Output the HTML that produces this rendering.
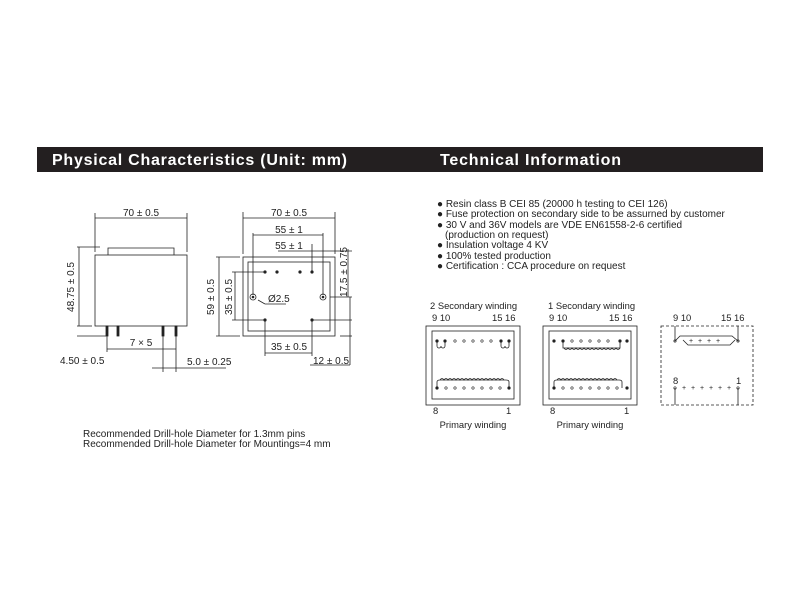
<!DOCTYPE html>
<html><head><meta charset="utf-8"><style>
body{margin:0;background:#fff;width:800px;height:600px;overflow:hidden}
svg{display:block;font-family:"Liberation Sans",sans-serif}
</style></head><body>
<svg width="800" height="600" viewBox="0 0 800 600">
<rect x="37" y="147" width="726" height="25" fill="#231f20"/>
<text x="52" y="165" fill="#fff" font-size="16" font-weight="bold" textLength="295" lengthAdjust="spacing">Physical Characteristics (Unit: mm)</text>
<text x="440" y="165" fill="#fff" font-size="16" font-weight="bold" textLength="181" lengthAdjust="spacing">Technical Information</text>

<g stroke="#222" stroke-width="0.8" fill="none">
<rect x="95" y="255" width="92" height="71"/>
<polyline points="108,255 108,248 174,248 174,255"/>
<rect x="106" y="326" width="2" height="10" fill="#222"/><rect x="117" y="326" width="2" height="10" fill="#222"/>
<rect x="162" y="326" width="2" height="10" fill="#222"/><rect x="175" y="326" width="2" height="10" fill="#222"/>
<line x1="95" y1="213" x2="95" y2="252"/><line x1="187" y1="213" x2="187" y2="252"/>
<line x1="95" y1="218" x2="187" y2="218"/>
<line x1="77" y1="247" x2="100" y2="247"/><line x1="77" y1="326" x2="92" y2="326"/><line x1="77" y1="336" x2="106" y2="336"/>
<line x1="79" y1="247" x2="79" y2="326"/>
<line x1="107" y1="336" x2="107" y2="352"/><line x1="163" y1="336" x2="163" y2="352"/>
<line x1="107" y1="349" x2="176" y2="349"/>
<line x1="163" y1="352" x2="163" y2="372"/><line x1="176" y1="336" x2="176" y2="372"/>
<line x1="152" y1="368" x2="226" y2="368"/>
<rect x="243" y="257" width="92" height="79"/>
<rect x="248" y="262" width="82" height="69"/>
<line x1="243" y1="212" x2="243" y2="254"/><line x1="335" y1="212" x2="335" y2="254"/>
<line x1="243" y1="218" x2="335" y2="218"/>
<line x1="253" y1="233" x2="253" y2="295"/><line x1="323" y1="233" x2="323" y2="295"/>
<line x1="253" y1="235" x2="323" y2="235"/>
<line x1="312" y1="244" x2="312" y2="272"/>
<line x1="278" y1="251" x2="352" y2="251"/>
<line x1="348" y1="249" x2="348" y2="297"/><line x1="330" y1="297" x2="352" y2="297"/>
<line x1="216" y1="257" x2="240" y2="257"/><line x1="216" y1="336" x2="240" y2="336"/>
<line x1="219" y1="257" x2="219" y2="336"/>
<line x1="232" y1="272" x2="265" y2="272"/><line x1="232" y1="320" x2="265" y2="320"/>
<line x1="235" y1="272" x2="235" y2="320"/>
<line x1="265" y1="320" x2="265" y2="356"/><line x1="312" y1="320" x2="312" y2="356"/>
<line x1="265" y1="353" x2="312" y2="353"/>
<line x1="312" y1="320" x2="352" y2="320"/>
<line x1="340" y1="336" x2="352" y2="336"/>
<line x1="350" y1="297" x2="350" y2="365"/>
<line x1="310" y1="365" x2="350" y2="365"/>
<line x1="258" y1="300" x2="265" y2="304"/><line x1="265" y1="304" x2="286" y2="304"/>
<circle cx="253" cy="297" r="3"/><circle cx="323" cy="297" r="3"/>
</g>
<g fill="#222">
<circle cx="265" cy="272" r="1.6"/><circle cx="277" cy="272" r="1.6"/><circle cx="300" cy="272" r="1.6"/><circle cx="312" cy="272" r="1.6"/>
<circle cx="265" cy="320" r="1.6"/><circle cx="312" cy="320" r="1.6"/>
<circle cx="253" cy="297" r="1.3"/><circle cx="323" cy="297" r="1.3"/>
</g>
<g font-size="10" fill="#222">
<text x="141" y="216" text-anchor="middle">70 ± 0.5</text>
<text transform="translate(74,287) rotate(-90)" text-anchor="middle">48.75 ± 0.5</text>
<text x="60" y="364">4.50 ± 0.5</text>
<text x="141" y="346" text-anchor="middle">7 × 5</text>
<text x="187" y="365">5.0 ± 0.25</text>
<text x="289" y="216" text-anchor="middle">70 ± 0.5</text>
<text x="289" y="233" text-anchor="middle">55 ± 1</text>
<text x="289" y="249" text-anchor="middle">55 ± 1</text>
<text transform="translate(347,272) rotate(-90)" text-anchor="middle">17.5 ± 0.75</text>
<text transform="translate(214,297) rotate(-90)" text-anchor="middle">59 ± 0.5</text>
<text transform="translate(232,297) rotate(-90)" text-anchor="middle">35 ± 0.5</text>
<text x="268" y="302">Ø2.5</text>
<text x="289" y="350" text-anchor="middle">35 ± 0.5</text>
<text x="313" y="364">12 ± 0.5</text>
<text x="83" y="437">Recommended Drill-hole Diameter for 1.3mm pins</text>
<text x="83" y="447">Recommended Drill-hole Diameter for Mountings=4 mm</text>
</g>
<g font-size="10" fill="#222">
<text x="437" y="207">● Resin class B CEI 85 (20000 h testing to CEI 126)</text>
<text x="437" y="217">● Fuse protection on secondary side to be assurned by customer</text>
<text x="437" y="228">● 30 V and 36V models are VDE EN61558-2-6 certified</text>
<text x="445" y="238">(production on request)</text>
<text x="437" y="248">● Insulation voltage 4 KV</text>
<text x="437" y="259">● 100% tested production</text>
<text x="437" y="269">● Certification : CCA procedure on request</text>
</g>
<g font-size="9.4" fill="#222">
<text x="430" y="309">2 Secondary winding</text>
<text x="432" y="321">9 10</text><text x="492" y="321">15 16</text>
<text x="433" y="414">8</text><text x="506" y="414">1</text>
<text x="473" y="428" text-anchor="middle">Primary winding</text>
<text x="548" y="309">1 Secondary winding</text>
<text x="549" y="321">9 10</text><text x="609" y="321">15 16</text>
<text x="550" y="414">8</text><text x="624" y="414">1</text>
<text x="590" y="428" text-anchor="middle">Primary winding</text>
<text x="673" y="321">9 10</text><text x="721" y="321">15 16</text>
<text x="673" y="384">8</text><text x="736" y="384">1</text>
</g>
<g stroke="#222" stroke-width="0.8" fill="none">
<rect x="426" y="326" width="94" height="79"/><rect x="432" y="331" width="82" height="68"/>
<rect x="543" y="326" width="94" height="79"/><rect x="549" y="331" width="82" height="68"/>
<rect x="661" y="326" width="92" height="79" stroke-dasharray="3,2"/>
<path d="M437,341 v5 a2,2 0 0 0 4,0 a2,2 0 0 0 4,0 v-5 M501,341 v5 a2,2 0 0 0 4,0 a2,2 0 0 0 4,0 v-5"/>
<path d="M437,388 v-6 q0,-2 3,-2 h66 q3,0 3,2 v6"/>
<path d="M440,380 q2,-3 4,0 q2,-3 4,0 q2,-3 4,0 q2,-3 4,0 q2,-3 4,0 q2,-3 4,0 q2,-3 4,0 q2,-3 4,0 q2,-3 4,0 q2,-3 4,0 q2,-3 4,0 q2,-3 4,0 q2,-3 4,0 q2,-3 4,0 q2,-3 4,0 q2,-3 4,0"/>
<path d="M563,341 v7 h57 v-7"/>
<path d="M564,348 q2,3 4,0 q2,3 4,0 q2,3 4,0 q2,3 4,0 q2,3 4,0 q2,3 4,0 q2,3 4,0 q2,3 4,0 q2,3 4,0 q2,3 4,0 q2,3 4,0 q2,3 4,0 q2,3 4,0 q2,3 4,0"/>
<path d="M554,388 v-6 q0,-2 3,-2 h62 q3,0 3,2 v6"/>
<path d="M557,380 q2,-3 4,0 q2,-3 4,0 q2,-3 4,0 q2,-3 4,0 q2,-3 4,0 q2,-3 4,0 q2,-3 4,0 q2,-3 4,0 q2,-3 4,0 q2,-3 4,0 q2,-3 4,0 q2,-3 4,0 q2,-3 4,0 q2,-3 4,0 q2,-3 4,0"/>
<path d="M675,326 v15 l5,-5 h52 l6,5 v-15 M683,340 l5,5 h42 l5,-5"/>
<path d="M675,388 v17 M738,388 v17"/>
</g>
<g fill="#222">
<circle cx="437" cy="341" r="1.6"/><circle cx="445" cy="341" r="1.6"/><circle cx="501" cy="341" r="1.6"/><circle cx="509" cy="341" r="1.6"/>
<circle cx="437" cy="388" r="1.6"/><circle cx="509" cy="388" r="1.6"/>
<circle cx="554" cy="341" r="1.6"/><circle cx="563" cy="341" r="1.6"/><circle cx="620" cy="341" r="1.6"/><circle cx="627" cy="341" r="1.6"/>
<circle cx="554" cy="388" r="1.6"/><circle cx="627" cy="388" r="1.6"/>
</g>
<g fill="none" stroke="#222" stroke-width="0.6">
<circle cx="455" cy="341" r="1.2"/><circle cx="464" cy="341" r="1.2"/><circle cx="473" cy="341" r="1.2"/><circle cx="482" cy="341" r="1.2"/><circle cx="491" cy="341" r="1.2"/>
<circle cx="446" cy="388" r="1.2"/><circle cx="455" cy="388" r="1.2"/><circle cx="464" cy="388" r="1.2"/><circle cx="473" cy="388" r="1.2"/><circle cx="482" cy="388" r="1.2"/><circle cx="491" cy="388" r="1.2"/><circle cx="500" cy="388" r="1.2"/>
<circle cx="572" cy="341" r="1.2"/><circle cx="581" cy="341" r="1.2"/><circle cx="590" cy="341" r="1.2"/><circle cx="599" cy="341" r="1.2"/><circle cx="608" cy="341" r="1.2"/>
<circle cx="563" cy="388" r="1.2"/><circle cx="572" cy="388" r="1.2"/><circle cx="581" cy="388" r="1.2"/><circle cx="590" cy="388" r="1.2"/><circle cx="599" cy="388" r="1.2"/><circle cx="608" cy="388" r="1.2"/><circle cx="617" cy="388" r="1.2"/>
<circle cx="675" cy="341" r="1.2"/><circle cx="738" cy="341" r="1.2"/><circle cx="675" cy="388" r="1.2"/><circle cx="738" cy="388" r="1.2"/>
</g>
<g font-size="7" fill="#222" text-anchor="middle">
<text x="691" y="343">+</text><text x="700" y="343">+</text><text x="709" y="343">+</text><text x="718" y="343">+</text>
<text x="684" y="390">+</text><text x="693" y="390">+</text><text x="702" y="390">+</text><text x="711" y="390">+</text><text x="720" y="390">+</text><text x="729" y="390">+</text>
</g>
</svg>
</body></html>
